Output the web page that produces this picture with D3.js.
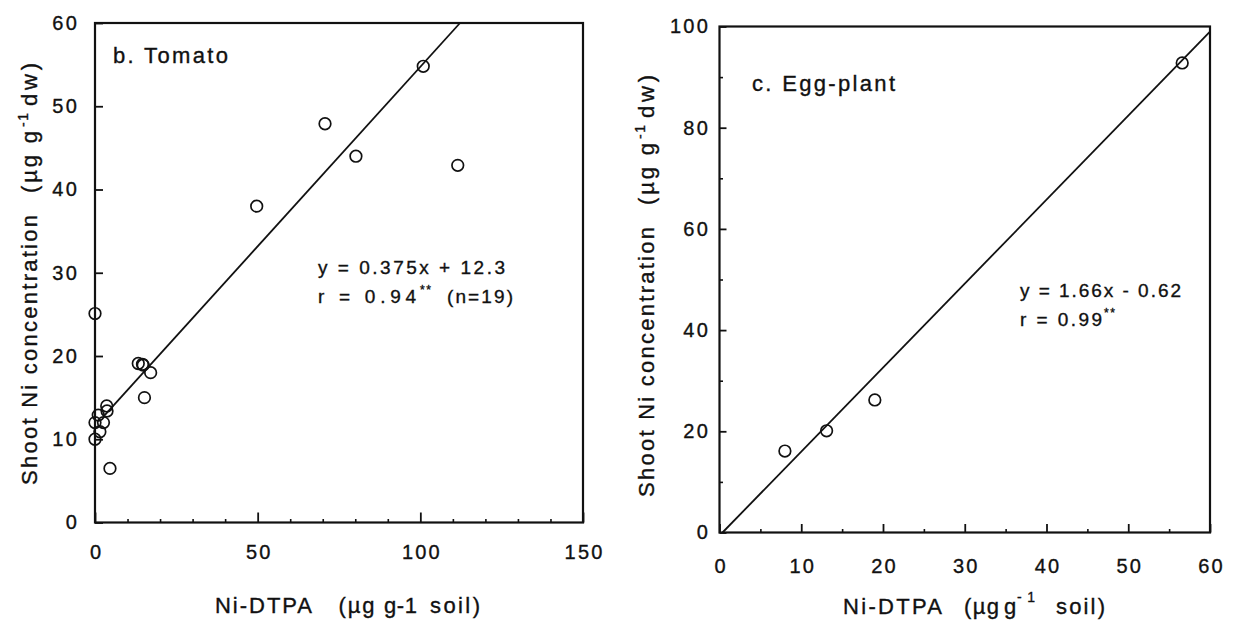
<!DOCTYPE html>
<html><head><meta charset="utf-8">
<script src="https://cdn.jsdelivr.net/npm/d3@7"></script>
<style>
body{margin:0;background:#fff}
text{font-family:"Liberation Sans", Arial, Helvetica, sans-serif; fill:#111; stroke:#111; stroke-width:0.35px}
</style>
</head><body>
<svg id="c" width="1241" height="622"></svg>
<script>
// ---------- data ----------
const tomatoX = [0, 13.3, 14.8, 17.1, 15.2, 3.6, 3.7, 1.0, 0, 2.6, 1.5, 0, 4.6, 49.7, 70.7, 80.2, 100.9, 111.5, 14.6];
const tomatoY = [25.1, 19.1, 18.9, 18.0, 15.0, 14.0, 13.4, 12.9, 12.0, 12.0, 10.9, 10.0, 6.5, 38.0, 47.9, 44.0, 54.8, 42.9, 19.0];
const tomatoFitX = [3.0, 112.2];
const tomatoFitY = [12.9, 60];
const eggX = [8.0, 13.1, 19.0, 56.6];
const eggY = [16.1, 20.1, 26.2, 92.8];
const eggFitX = [0.37, 60];
const eggFitY = [0, 98.98];
const tomatoXTicks = [0, 50, 100, 150];
const tomatoXMinor = [10,20,30,40,60,70,80,90,110,120,130,140];
const tomatoYTicks = [0, 10, 20, 30, 40, 50, 60];
const eggXTicks = [0, 10, 20, 30, 40, 50, 60];
const eggXMinor = [5, 15, 25, 35, 45, 55];
const eggYTicks = [0, 20, 40, 60, 80, 100];
const eggYMinor = [10, 30, 50, 70, 90];

const svg = d3.select("#c");

function panel(o){
  const x = d3.scaleLinear().domain(o.xd).range(o.xr);
  const y = d3.scaleLinear().domain(o.yd).range(o.yr);
  const g = svg.append("g");
  const ax = g.append("g").attr("transform",`translate(0,${o.yr[0]})`)
    .call(d3.axisBottom(x).tickValues(o.xt).tickSize(-o.xMaj).tickPadding(o.xPad).tickFormat(d3.format("d")));
  ax.select(".domain").remove();
  ax.selectAll("line").attr("stroke","#111").attr("stroke-width",1.8);
  ax.selectAll("text").attr("font-size",20).attr("letter-spacing",2.2).attr("fill","#111")
    .attr("dx", 1.1);
  if(o.xm){
    const am = g.append("g").attr("transform",`translate(0,${o.yr[0]})`)
      .call(d3.axisBottom(x).tickValues(o.xm).tickSize(-3.5).tickFormat(""));
    am.select(".domain").remove();
    am.selectAll("line").attr("stroke","#111").attr("stroke-width",1.6);
  }
  const ay = g.append("g").attr("transform",`translate(${o.xr[0]},0)`)
    .call(d3.axisLeft(y).tickValues(o.yt).tickSize(-o.yMaj).tickPadding(o.yPad).tickFormat(d3.format("d")));
  ay.select(".domain").remove();
  ay.selectAll("line").attr("stroke","#111").attr("stroke-width",1.8);
  ay.selectAll("text").attr("font-size",20).attr("letter-spacing",2.2).attr("fill","#111");
  if(o.ym){
    const aym = g.append("g").attr("transform",`translate(${o.xr[0]},0)`)
      .call(d3.axisLeft(y).tickValues(o.ym).tickSize(-3.5).tickFormat(""));
    aym.select(".domain").remove();
    aym.selectAll("line").attr("stroke","#111").attr("stroke-width",1.6);
  }
  g.append("rect").attr("x",o.xr[0]).attr("y",o.yr[1])
    .attr("width",o.xr[1]-o.xr[0]).attr("height",o.yr[0]-o.yr[1])
    .attr("fill","none").attr("stroke","#111").attr("stroke-width",2.2);
  const fit = o.fx.map((d,i)=>[d,o.fy[i]]);
  g.append("path").datum(fit)
    .attr("d", d3.line().x(d=>x(d[0])).y(d=>y(d[1])))
    .attr("fill","none").attr("stroke","#111").attr("stroke-width",1.8);
  const pts = o.px.map((d,i)=>[d,o.py[i]]);
  g.selectAll("circle.p").data(pts).join("circle").attr("class","p")
    .attr("cx",d=>x(d[0])).attr("cy",d=>y(d[1])).attr("r",5.8)
    .attr("fill","none").attr("stroke","#111").attr("stroke-width",1.7);
  return g;
}

panel({xd:[0,150], xr:[95,583], yd:[0,60], yr:[522.5,23],
  xt:tomatoXTicks, xm:tomatoXMinor, yt:tomatoYTicks,
  xMaj:10, yMaj:8, xPad:22, yPad:16,
  fx:tomatoFitX, fy:tomatoFitY, px:tomatoX, py:tomatoY});

panel({xd:[0,60], xr:[719.5,1210], yd:[0,100], yr:[532.5,26.5],
  xt:eggXTicks, xm:eggXMinor, yt:eggYTicks, ym:eggYMinor,
  xMaj:8.5, yMaj:7, xPad:26, yPad:9.5,
  fx:eggFitX, fy:eggFitY, px:eggX, py:eggY});

// ---------- texts ----------
function t(x, y, s, size, len, opts={}){
  const e = svg.append("text").attr("x",x).attr("y",y).attr("font-size",size).text(s);
  if(len) e.attr("textLength",len).attr("lengthAdjust","spacing");
  if(opts.rot) e.attr("transform",`rotate(-90 ${x} ${y})`);
  return e;
}
t(113, 63, "b. Tomato", 22, 115);
t(752, 91, "c.  Egg-plant", 22, 143);
t(318, 274, "y = 0.375x + 12.3", 19, 187);
t(318, 303, "r = 0.94", 19, 98);
t(420, 294, "**", 12, 11);
t(447, 303, "(n=19)", 19, 66);
t(1020, 297, "y = 1.66x - 0.62", 19, 161);
t(1020, 326, "r = 0.99", 19, 82);
t(1104, 317, "**", 12, 11);
// x titles
t(215, 613, "Ni-DTPA", 22, 97);
t(338.6, 613, "(µg", 22, 36);
t(384, 613, "g-1", 22, 33);
t(430, 613, "soil)", 22, 50);
t(843, 614, "Ni-DTPA", 22, 99);
t(964, 614, "(µg", 22, 35);
t(1004, 614, "g", 22, 11);
t(1017, 602, "-1", 14, 18);
t(1056, 614, "soil)", 22, 49);
// y titles (rotated)
function ytitle(bx, start){
  t(bx, start, "Shoot Ni concentration", 22, 270, {rot:true});
  t(bx, start-292, "(µg g", 22, 62, {rot:true});
  t(bx-9, start-358, "-1", 14, 14, {rot:true});
  t(bx, start-379, "dw)", 22, 43, {rot:true});
}
ytitle(37, 485);
ytitle(654, 497);
</script>
</body></html>
